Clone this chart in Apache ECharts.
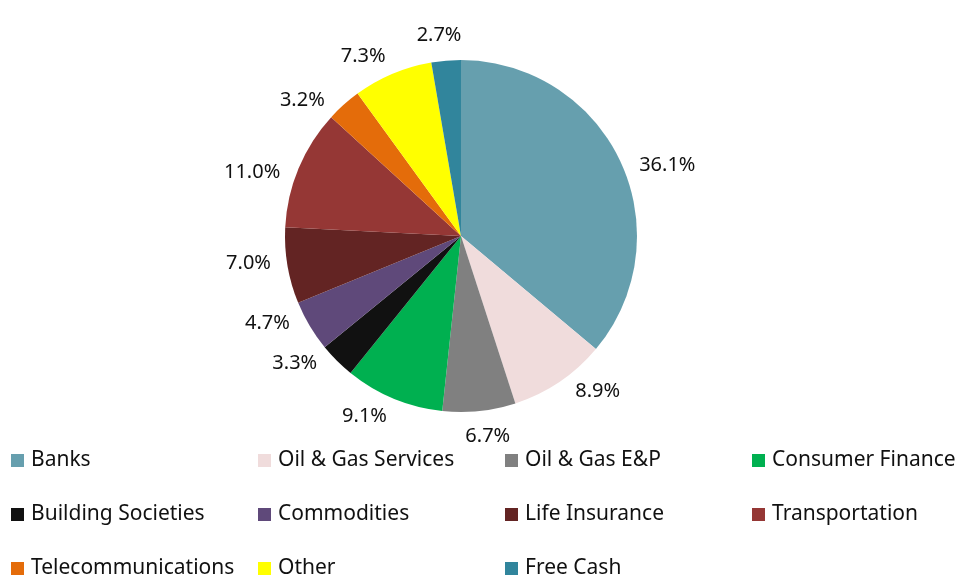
<!DOCTYPE html>
<html>
<head>
<meta charset="utf-8">
<script src="https://cdn.jsdelivr.net/npm/echarts@6/dist/echarts.min.js"></script>
<style>
  html, body { margin: 0; padding: 0; background: #fff; }
  #chart { width: 956px; height: 579px; }
</style>
</head>
<body>
<div id="chart"></div>
<script>
var sectors = ['Banks', 'Oil & Gas Services', 'Oil & Gas E&P', 'Consumer Finance',
  'Building Societies', 'Commodities', 'Life Insurance', 'Transportation',
  'Telecommunications', 'Other', 'Free Cash'];
var shares = [36.1, 8.9, 6.7, 9.1, 3.3, 4.7, 7.0, 11.0, 3.2, 7.3, 2.7];
var colours = ['#669fae', '#f0dcdc', '#808080', '#00b050', '#111111', '#5f497a',
  '#632423', '#953735', '#e46c0a', '#ffff00', '#31859c'];

var myChart = echarts.init(document.getElementById('chart'));
var font = 'Noto Sans';
var cx = 461, cy = 236, r = 176;

// mid angle of every slice, clockwise from 12 o'clock (radians)
var total = shares.reduce(function (a, b) { return a + b; }, 0);
var midAngles = [];
var acc = 0;
shares.forEach(function (v) {
  midAngles.push((acc + v / 2) / total * Math.PI * 2);
  acc += v;
});

// one legend per entry so the entries sit in a 4 column grid
var legends = sectors.map(function (s, i) {
  return {
    data: [s],
    left: 11 + (i % 4) * 247,
    top: 450 + Math.floor(i / 4) * 54,
    icon: 'rect',
    itemWidth: 13,
    itemHeight: 13,
    padding: 0,
    textStyle: { fontFamily: font, fontSize: 21, lineHeight: 20, color: '#111', padding: [0, 0, 0, 2] }
  };
});

var option = {
  color: colours,
  animation: false,
  legend: legends,
  series: [{
    type: 'pie',
    center: [cx, cy],
    radius: r,
    startAngle: 90,
    clockwise: true,
    avoidLabelOverlap: false,
    data: sectors.map(function (s, i) { return { name: s, value: shares[i] }; }),
    label: {
      show: true,
      position: 'outside',
      formatter: function (p) { return p.value.toFixed(1) + '%'; },
      fontFamily: font,
      fontSize: 20,
      color: '#111'
    },
    labelLine: { show: false },
    labelLayout: function (p) {
      var t = midAngles[p.dataIndex];
      var a = t + 6 * Math.PI / 180 * Math.sin(2 * t);
      var s = Math.sin(a), c = Math.cos(a);
      var w = p.labelRect.width, h = p.labelRect.height;
      var R = r + 16;
      return {
        x: cx + R * s + w / 2 * s,
        y: cy - R * c - h / 2 * c,
        align: 'center',
        verticalAlign: 'middle'
      };
    },
    itemStyle: { borderWidth: 0 }
  }]
};
myChart.setOption(option);
</script>
</body>
</html>
